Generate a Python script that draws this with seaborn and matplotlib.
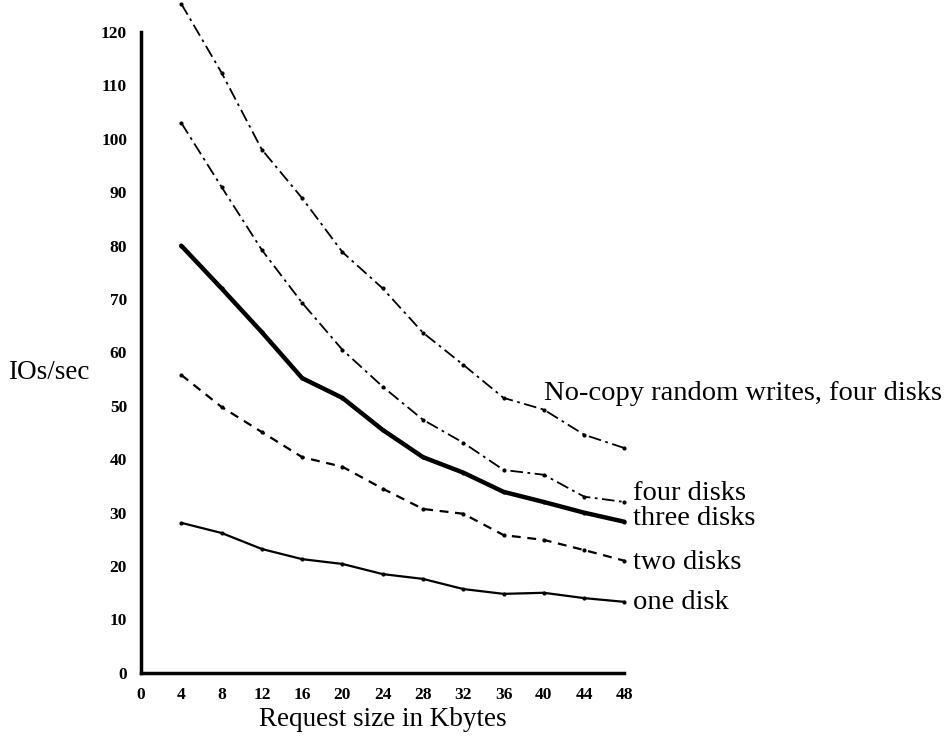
import matplotlib
matplotlib.use("Agg")
import matplotlib.pyplot as plt
import seaborn as sns
import pandas as pd

sizes = [4, 8, 12, 16, 20, 24, 28, 32, 36, 40, 44, 48]
one_disk = [28.1, 26.2, 23.2, 21.3, 20.4, 18.5, 17.6, 15.7, 14.8, 15.0, 14.0, 13.3]
two_disks = [55.8, 49.8, 45.1, 40.4, 38.6, 34.5, 30.7, 29.8, 25.8, 24.9, 23.0, 21.0]
three_disks = [80.0, 72.0, 63.8, 55.2, 51.5, 45.5, 40.4, 37.5, 33.9, 32.0, 30.0, 28.3]
four_disks = [103.0, 91.0, 79.2, 69.3, 60.5, 53.6, 47.4, 43.1, 38.0, 37.1, 33.0, 32.0]
nocopy_four = [125.3, 112.4, 98.0, 88.9, 78.8, 72.0, 63.7, 57.7, 51.5, 49.3, 44.6, 42.1]

x_ticks = list(range(0, 49, 4))
y_ticks = list(range(0, 121, 10))

sns.set_style("white")
plt.rcParams['font.family'] = ['Liberation Serif', 'DejaVu Serif']
plt.rcParams['text.color'] = 'black'
plt.rcParams['axes.labelcolor'] = 'black'
plt.rcParams['xtick.color'] = 'black'
plt.rcParams['ytick.color'] = 'black'

fig = plt.figure(figsize=(9.48, 7.46), dpi=100)
ax = fig.add_axes([0.1487, 0.098, 0.51, 0.859])

series = [
    ("one disk", one_disk, dict(lw=1.6, ls='-')),
    ("two disks", two_disks, dict(lw=1.6, ls=(0, (4, 3)))),
    ("three disks", three_disks, dict(lw=3.2, ls='-')),
    ("four disks", four_disks, dict(lw=1.3, ls=(0, (7, 2.5, 1.5, 2.5)))),
    ("No-copy random writes, four disks", nocopy_four, dict(lw=1.3, ls=(0, (7, 2.5, 1.5, 2.5)))),
]

for name, vals, style in series:
    df = pd.DataFrame({"size": sizes, "ios": vals})
    sns.lineplot(data=df, x="size", y="ios", ax=ax, color="black",
                 linewidth=style["lw"], linestyle=style["ls"],
                 marker='o', markersize=3, markeredgewidth=0, clip_on=False)

ax.set_xlim(0, 48)
ax.set_ylim(0, 120)
ax.set_xticks(x_ticks)
ax.set_yticks(y_ticks)
ax.set_xticklabels([str(t) for t in x_ticks], fontweight='bold', fontsize=12.5)
ax.set_yticklabels([str(t) for t in y_ticks], fontweight='bold', fontsize=12.5)
ax.tick_params(axis='both', direction='out', length=6, width=2, color='black', pad=4)

for s in ['top', 'right']:
    ax.spines[s].set_visible(False)
for s in ['left', 'bottom']:
    ax.spines[s].set_linewidth(2.5)
    ax.spines[s].set_color('black')

ax.set_xlabel("Request size in Kbytes", fontsize=19.5, labelpad=3)
ax.set_ylabel("IOs/sec", fontsize=19.5, rotation=0, va='center', ha='center')
ax.yaxis.set_label_coords(-0.19, 0.468)

label_pos = {
    "one disk": (48.8, 13.1),
    "two disks": (48.8, 20.6),
    "three disks": (48.8, 29.0),
    "four disks": (48.8, 33.5),
    "No-copy random writes, four disks": (40.0, 52.4),
}
for name, (lx, ly) in label_pos.items():
    ax.text(lx, ly, name, fontsize=20.5, va='center', ha='left', clip_on=False)

fig.savefig("out.png", dpi=100)
